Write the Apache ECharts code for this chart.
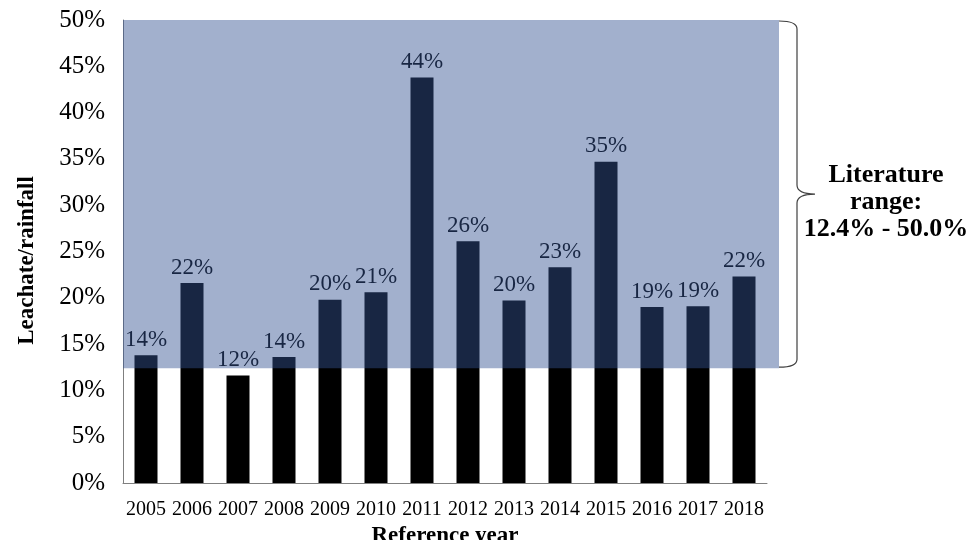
<!DOCTYPE html>
<html>
<head>
<meta charset="utf-8">
<title>Leachate/rainfall by reference year</title>
<script src="https://cdn.jsdelivr.net/npm/echarts@6/dist/echarts.min.js"></script>
<style>
  html, body { margin: 0; padding: 0; background: #ffffff; }
  #chart { width: 974px; height: 540px; }
</style>
</head>
<body>
<div id="chart"></div>
<script>
// Reference years on the category axis
const years = ['2005', '2006', '2007', '2008', '2009', '2010', '2011',
               '2012', '2013', '2014', '2015', '2016', '2017', '2018'];

// Leachate generated as a share of rainfall, in percent
const leachateRatio = [13.8, 21.6, 11.6, 13.6, 19.8, 20.6, 43.8,
                       26.1, 19.7, 23.3, 34.7, 19.0, 19.1, 22.3];

// Range reported in the literature, in percent [low, high]
const literatureRange = [12.4, 50.0];

// Value axis ticks
const yMin = 0;
const yMax = 50;
const yStep = 5;

const serif = "'Liberation Serif', 'Times New Roman', serif";

const chart = echarts.init(document.getElementById('chart'), null, { renderer: 'canvas' });

const rangeText = 'Literature\nrange:\n' +
  literatureRange[0].toFixed(1) + '% - ' + literatureRange[1].toFixed(1) + '%';

const option = {
  animation: false,
  backgroundColor: '#ffffff',
  grid: { left: 123, right: 207, top: 20, bottom: 57, containLabel: false, outerBoundsMode: 'none' },
  xAxis: {
    type: 'category',
    data: years,
    name: 'Reference year',
    nameLocation: 'middle',
    nameGap: 37,
    nameTextStyle: { fontFamily: serif, fontSize: 23, fontWeight: 'bold', color: '#000' },
    axisLine: { show: true, lineStyle: { color: '#7f7f7f', width: 1 } },
    axisTick: { show: false },
    axisLabel: { fontFamily: serif, fontSize: 20, color: '#000', margin: 17, interval: 0 },
    splitLine: { show: false }
  },
  yAxis: {
    type: 'value',
    min: yMin,
    max: yMax,
    interval: yStep,
    name: 'Leachate/rainfall',
    nameLocation: 'middle',
    nameGap: 84,
    nameTextStyle: { fontFamily: serif, fontSize: 23, fontWeight: 'bold', color: '#000', padding: [0, 0, 0, -18] },
    axisLine: { show: true, lineStyle: { color: '#7f7f7f', width: 1 } },
    axisTick: { show: false },
    axisLabel: { fontFamily: serif, fontSize: 25, color: '#000', margin: 18, formatter: '{value}%' },
    splitLine: { show: false }
  },
  series: [
    {
      type: 'bar',
      z: 2,
      data: leachateRatio,
      barWidth: '50%',
      itemStyle: { color: '#000000' },
      label: {
        show: true,
        position: 'top',
        distance: 4,
        fontFamily: serif,
        fontSize: 23,
        color: '#000000',
        formatter: p => Math.round(p.value) + '%'
      }
    },
    {
      // Literature band laid over the bars, plus the brace and its caption
      type: 'custom',
      z: 10,
      clip: false,
      silent: true,
      data: [0],
      renderItem: (params, api) => {
        const cs = params.coordSys;
        const yTop = api.coord([0, literatureRange[1]])[1];
        const yBot = api.coord([0, literatureRange[0]])[1];
        const x0 = cs.x;
        const x1 = cs.x + cs.width + 12;
        const bx = x1 + 18;          // vertical stroke of the brace
        const tip = bx + 18;         // point of the brace
        const yMid = (yTop + yBot) / 2;
        const r = 9;
        const bracePath =
          'M' + x1 + ' ' + (yTop + 1) +
          ' Q' + bx + ' ' + (yTop + 1) + ' ' + bx + ' ' + (yTop + r) +
          ' L' + bx + ' ' + (yMid - r) +
          ' Q' + bx + ' ' + yMid + ' ' + tip + ' ' + yMid +
          ' Q' + bx + ' ' + yMid + ' ' + bx + ' ' + (yMid + r) +
          ' L' + bx + ' ' + (yBot - r) +
          ' Q' + bx + ' ' + (yBot - 1) + ' ' + x1 + ' ' + (yBot - 1);
        return {
          type: 'group',
          children: [
            {
              type: 'rect',
              shape: { x: x0, y: yTop, width: x1 - x0, height: yBot - yTop },
              style: { fill: 'rgba(52, 82, 147, 0.46)' }
            },
            {
              type: 'path',
              shape: { pathData: bracePath },
              style: { fill: 'none', stroke: '#404040', lineWidth: 1.2 }
            },
            {
              type: 'text',
              style: {
                text: rangeText,
                x: tip + 71,
                y: yMid + 8,
                align: 'center',
                verticalAlign: 'middle',
                fontFamily: serif,
                fontSize: 26,
                fontWeight: 'bold',
                lineHeight: 27,
                fill: '#000000'
              }
            }
          ]
        };
      }
    }
  ]
};

chart.setOption(option);
</script>
</body>
</html>
